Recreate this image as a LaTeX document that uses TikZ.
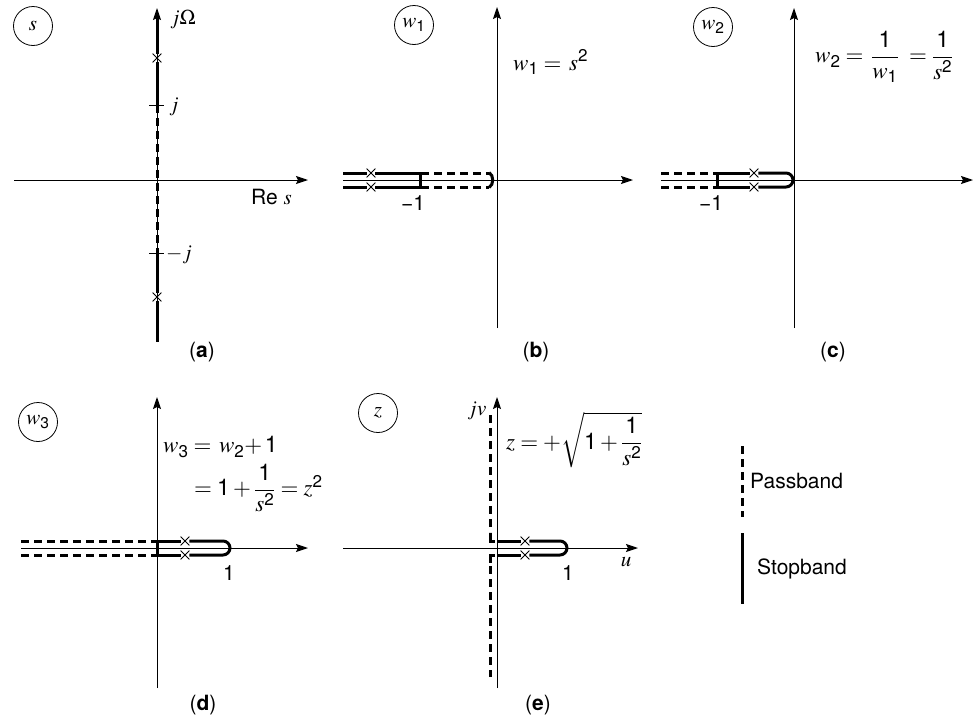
\documentclass[tikz,border=0pt]{standalone}
\usepackage{amsmath}
\usepackage{mathptmx}
\usepackage{fontspec}
\setmainfont{TeX Gyre Heros}
\usetikzlibrary{arrows.meta,shapes.misc}
\newcommand\dg[1]{\text{#1}}
\tikzset{
  ax/.style={line width=1pt,-{Stealth[length=12pt,width=8pt,inset=2pt]}},
  band/.style={line width=3pt},
  pass/.style={line width=3pt,dash pattern=on 8pt off 5pt},
  xm/.style={cross out,draw,line width=0.8pt,minimum size=8pt,inner sep=0pt},
  plane/.style={circle,draw,line width=0.8pt,minimum size=39pt,inner sep=0pt},
  tickln/.style={line width=1pt},
  captxt/.style={inner sep=0pt},
  eqn/.style={anchor=west,inner sep=0pt,font=\fontsize{23}{27}\selectfont}
}
\begin{document}
\begin{tikzpicture}[x=1pt,y=-1pt,font=\fontsize{21}{25}\selectfont]
\useasboundingbox (0,0) rectangle (978,726);

% ---------- (a) ----------
\node[plane] (ca) at (33,26) {$s$};
\coordinate (aL) at (14,180); \coordinate (aR) at (308,180);
\coordinate (aB) at (157,342); \coordinate (aT) at (157,8);
\draw[ax] (aL) -- (aR);
\draw[ax] (aB) -- (aT);
\node[xm] (ax1) at (157,58) {};
\node[xm] (ax2) at (157,297) {};
\draw[band] (157,16) -- (ax1.north);
\draw[band] (ax1.south) -- (157,105);
\draw[pass] (157,105) -- (157,253);
\draw[band] (157,253) -- (ax2.north);
\draw[band] (ax2.south) -- (aB);
\draw[tickln] (149,105) -- (164,105);
\draw[tickln] (149,253) -- (164,253);
\node[anchor=west,inner sep=0pt] (aj) at (169,107) {$j$};
\node[anchor=west,inner sep=0pt] (amj) at (166,255) {$-j$};
\node[anchor=west,inner sep=0pt] (aO) at (170,20) {$j\Omega$};
\node[anchor=west,inner sep=0pt] (aRe) at (251,197) {Re $s$};
\node[captxt] (capa) at (202,352) {(\textbf{a})};

% ---------- (b) ----------
\node[plane] (cb) at (414,25) {$w_{\dg{1}}$};
\coordinate (bL) at (343,180); \coordinate (bR) at (633,180);
\coordinate (bB) at (497,328); \coordinate (bT) at (497,7);
\draw[ax] (bL) -- (bR);
\draw[ax] (bB) -- (bT);
\node[xm] (bx1) at (371,173) {};
\node[xm] (bx2) at (371,187) {};
\draw[band] (343,173) -- (bx1.west);
\draw[band] (343,187) -- (bx2.west);
\draw[band] (bx1.east) -- (420,173) -- (420,187) -- (bx2.east);
\draw[pass] (421,173) -- (489,173);
\draw[pass] (421,187) -- (489,187);
\draw[band] (489,172.5) .. controls (494,175) and (494,185) .. (489,187.5);
\node[inner sep=0pt] (bm1) at (413,203) {−1};
\node[eqn] (beq) at (513,62) {$w_{\dg{1}} = \,s^{\dg{2}}$};
\node[captxt] (capb) at (536,352) {(\textbf{b})};

% ---------- (c) ----------
\node[plane] (cc) at (713,27) {$w_{\dg{2}}$};
\coordinate (cL) at (661,180); \coordinate (cR) at (973,180);
\coordinate (cB) at (794,328); \coordinate (cT) at (794,8);
\draw[ax] (cL) -- (cR);
\draw[ax] (cB) -- (cT);
\node[xm] (cx1) at (754,173) {};
\node[xm] (cx2) at (754,187) {};
\draw[pass] (661,173) -- (716,173);
\draw[pass] (661,187) -- (716,187);
\draw[band] (cx1.west) -- (717,173) -- (717,187) -- (cx2.west);
\draw[band] (cx1.east) -- (786,173) arc[start angle=-90,end angle=90,radius=7] -- (cx2.east);
\node[inner sep=0pt] (cm1) at (711,203) {−1};
\node[eqn] (ceq) at (815,57) {$w_{\dg{2}} = \,\dfrac{\dg{1}}{w_{\dg{1}}}\; = \dfrac{\dg{1}}{s^{\dg{2}}}$};
\node[captxt] (capc) at (833,352) {(\textbf{c})};

% ---------- (d) ----------
\node[plane] (cd) at (38,422) {$w_{\dg{3}}$};
\coordinate (dL) at (21,548); \coordinate (dR) at (308,548);
\coordinate (dB) at (157,688); \coordinate (dT) at (157,397);
\draw[ax] (dL) -- (dR);
\draw[ax] (dB) -- (dT);
\node[xm] (dx1) at (185,541) {};
\node[xm] (dx2) at (185,555) {};
\draw[pass] (21,541) -- (156,541);
\draw[pass] (21,555) -- (156,555);
\draw[band] (dx1.west) -- (157,541) -- (157,555) -- (dx2.west);
\draw[band] (dx1.east) -- (223,541) arc[start angle=-90,end angle=90,radius=7] -- (dx2.east);
\node[inner sep=0pt] (d1) at (229,573) {1};
\node[eqn] (deq1) at (163,447) {$w_{\dg{3}} = \,w_{\dg{2}}{+}\,\dg{1}$};
\node[eqn] (deq2) at (194,488) {$= \dg{1} + \dfrac{\dg{1}}{s^{\dg{2}}} = z^{\dg{2}}$};
\node[captxt] (capd) at (203,705) {(\textbf{d})};

% ---------- (e) ----------
\node[plane] (ce) at (378,413) {$z$};
\coordinate (eL) at (343,548); \coordinate (eR) at (638,548);
\coordinate (eB) at (497,688); \coordinate (eT) at (497,397);
\draw[ax] (eL) -- (eR);
\draw[ax] (eB) -- (eT);
\node[xm] (ex1) at (525,541) {};
\node[xm] (ex2) at (525,555) {};
\draw[band] (497,541) -- (ex1.west);
\draw[band] (497,555) -- (ex2.west);
\draw[band] (ex1.east) -- (560,541) arc[start angle=-90,end angle=90,radius=7] -- (ex2.east);
\draw[pass] (490,415) -- (490,532);
\draw[band] (490,533) -- (490,541) -- (495,541);
\draw[band] (495,555) -- (490,555) -- (490,563);
\draw[pass] (490,566) -- (490,677);
\node[inner sep=0pt] (e1) at (568,573) {1};
\node[inner sep=0pt] (ejv) at (477,411) {$jv$};
\node[inner sep=0pt] (eu) at (626,562) {$u$};
\node[eqn] (eeq) at (506,440) {$z = +\sqrt{\dg{1} + \dfrac{\dg{1}}{s^{\dg{2}}}}$};
\node[captxt] (cape) at (538,705) {(\textbf{e})};

% ---------- legend ----------
\draw[pass] (742,446) -- (742,517);
\draw[band] (742,533) -- (742,604);
\node[anchor=west,inner sep=0pt] (lp) at (750,481) {Passband};
\node[anchor=west,inner sep=0pt] (ls) at (757,569) {Stopband};
\end{tikzpicture}
\end{document}
